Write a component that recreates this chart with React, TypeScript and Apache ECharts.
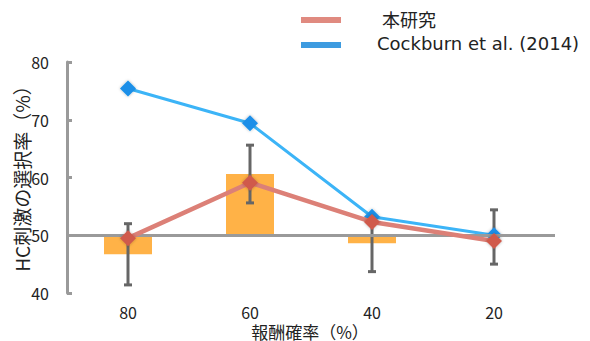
import React, { useEffect, useRef } from "react";
import * as echarts from "echarts";

// Reward probability categories (%)
const categories = ["80", "60", "40", "20"];
// Bar values (this study) and their error half-widths
const barValues = [46.7, 60.6, 48.6, 49.7];
const errorValues = [5.3, 5.0, 4.9, 4.7];
// Line series
const studyValues = [49.5, 59.1, 52.3, 49.0];
const cockburnValues = [75.4, 69.4, 53.2, 50.0];
const yTicks = [40, 50, 60, 70, 80];

const BASE = 50;
const AXIS_GRAY = "#9a9a9a";
const TEXT = "#222";
const FONT = "'Noto Sans CJK JP', 'Noto Sans', sans-serif";
const LATIN_FONT = "'DejaVu Sans', sans-serif";

export default function App() {
  const ref = useRef<HTMLDivElement>(null);

  useEffect(() => {
    if (!ref.current) return;
    const chart = echarts.init(ref.current, null, { renderer: "svg" });

    const barData = barValues.map((v, i) => [i, v]);
    const errData = barValues.map((v, i) => [i, v - errorValues[i], v + errorValues[i]]);

    chart.setOption({
      animation: false,
      textStyle: { fontFamily: FONT },
      grid: {
        left: 67,
        right: 35,
        top: 62,
        bottom: 48,
        containLabel: false,
        outerBoundsMode: "none",
      },
      xAxis: {
        type: "category",
        data: categories,
        boundaryGap: true,
        axisLine: { show: false },
        axisTick: { show: false },
        axisLabel: { color: TEXT, fontSize: 16, lineHeight: 16, margin: 11, fontFamily: FONT },
      },
      yAxis: {
        type: "value",
        min: yTicks[0],
        max: yTicks[yTicks.length - 1],
        interval: 10,
        axisLine: { show: true, lineStyle: { color: AXIS_GRAY, width: 3 } },
        axisTick: { show: true, inside: true, length: 5, lineStyle: { color: AXIS_GRAY, width: 3 } },
        axisLabel: { color: TEXT, fontSize: 16, margin: 18, fontFamily: FONT },
        splitLine: { show: false },
      },
      graphic: [
        // axis titles
        {
          type: "text",
          x: 21,
          y: 174,
          rotation: Math.PI / 2,
          style: {
            text: "HC刺激の選択率（%）",
            fill: TEXT,
            fontSize: 19,
            fontFamily: FONT,
            align: "center",
            verticalAlign: "middle",
          },
        },
        {
          type: "text",
          x: 310,
          y: 331,
          style: {
            text: "報酬確率（%）",
            fill: TEXT,
            fontSize: 17,
            lineHeight: 17,
            fontFamily: FONT,
            align: "center",
            verticalAlign: "middle",
          },
        },
        // legend
        { type: "rect", left: 301, top: 17, shape: { width: 40, height: 6 }, style: { fill: "#e08a80" } },
        { type: "rect", left: 301, top: 42, shape: { width: 40, height: 6 }, style: { fill: "#3d9be0" } },
        {
          type: "text",
          left: 382,
          top: 10,
          style: { text: "本研究", fill: TEXT, fontSize: 18, fontFamily: FONT },
        },
        {
          type: "text",
          left: 377,
          top: 34,
          style: { text: "Cockburn et al. (2014)", fill: TEXT, fontSize: 18, fontFamily: LATIN_FONT },
        },
      ],
      series: [
        {
          type: "custom",
          name: "bars",
          z: 1,
          data: barData,
          encode: { x: 0, y: 1 },
          renderItem: (params: any, api: any) => {
            const idx = api.value(0);
            const top = api.coord([idx, api.value(1)]);
            const base = api.coord([idx, BASE]);
            const w = 48;
            return {
              type: "rect",
              shape: {
                x: top[0] - w / 2,
                y: Math.min(top[1], base[1]),
                width: w,
                height: Math.abs(base[1] - top[1]),
              },
              style: { fill: "#ffb247" },
            };
          },
          markLine: {
            silent: true,
            symbol: "none",
            label: { show: false },
            lineStyle: { color: AXIS_GRAY, width: 3, type: "solid" },
            data: [{ yAxis: BASE }],
          },
        },
        {
          type: "custom",
          name: "errors",
          z: 3,
          data: errData,
          encode: { x: 0, y: [1, 2] },
          renderItem: (params: any, api: any) => {
            const idx = api.value(0);
            const lo = api.coord([idx, api.value(1)]);
            const hi = api.coord([idx, api.value(2)]);
            const cap = 4;
            const style = { stroke: "#666", lineWidth: 3 };
            return {
              type: "group",
              children: [
                { type: "line", shape: { x1: lo[0], y1: lo[1], x2: hi[0], y2: hi[1] }, style },
                { type: "line", shape: { x1: hi[0] - cap, y1: hi[1], x2: hi[0] + cap, y2: hi[1] }, style },
                { type: "line", shape: { x1: lo[0] - cap, y1: lo[1], x2: lo[0] + cap, y2: lo[1] }, style },
              ],
            };
          },
        },
        {
          type: "line",
          name: "Cockburn et al. (2014)",
          z: 4,
          data: cockburnValues,
          symbol: "diamond",
          symbolSize: 16,
          lineStyle: { color: "#3cb4f7", width: 3 },
          itemStyle: {
            color: "#1a8fe8",
            shadowBlur: 3,
            shadowColor: "rgba(0,0,0,0.3)",
          },
        },
        {
          type: "line",
          name: "本研究",
          z: 5,
          data: studyValues,
          symbol: "diamond",
          symbolSize: 16,
          lineStyle: { color: "#dc8077", width: 4.5 },
          itemStyle: {
            color: "#d05a4c",
            shadowBlur: 3,
            shadowColor: "rgba(0,0,0,0.3)",
          },
        },
      ],
    });

    return () => chart.dispose();
  }, []);

  return <div ref={ref} style={{ position: "absolute", left: 0, top: 0, width: 590, height: 341 }} />;
}
